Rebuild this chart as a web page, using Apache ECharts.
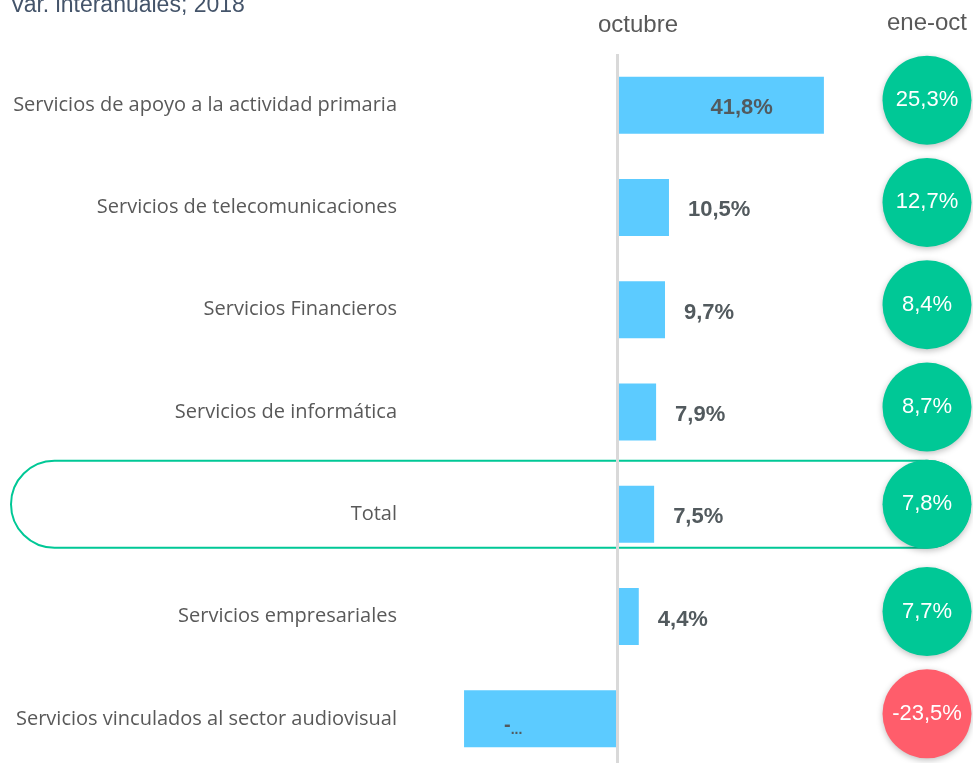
<!DOCTYPE html>
<html>
<head>
<meta charset="utf-8">
<script src="https://cdn.jsdelivr.net/npm/echarts@6/dist/echarts.min.js"></script>
<style>
  html, body { margin: 0; padding: 0; background: #fff; overflow: hidden; }
  #chart { width: 973px; height: 780px; }
</style>
</head>
<body>
<div id="chart"></div>
<script>
// categorias (de arriba a abajo)
var sectores = [
  "Servicios de apoyo a la actividad primaria",
  "Servicios de telecomunicaciones",
  "Servicios Financieros",
  "Servicios de informática",
  "Total",
  "Servicios empresariales",
  "Servicios vinculados al sector audiovisual"
];
// variacion interanual octubre (%)
var octubre = [41.8, 10.5, 9.7, 7.9, 7.5, 4.4, -30.9];
// variacion acumulada ene-oct (%)
var eneOct = [25.3, 12.7, 8.4, 8.7, 7.8, 7.7, -23.5];

function fmt(v) {
  return v.toFixed(1).replace(".", ",") + "%";
}

//datos de las barras con la posicion de la etiqueta
var datosBarras = octubre.map(function (v, i) {
  var item = { value: v };
  if (v > 30) {
    item.label = { position: "insideRight", distance: 51 };
  } else if (v < 0) {
    //etiqueta recortada como en el original
    item.label = {
      position: "insideLeft",
      distance: 40,
      offset: [0, 7],
      formatter: "{a|-}{b|...}",
      rich: {
        a: { fontSize: 20, fontWeight: "bold", color: "#525a5e", fontFamily: "Liberation Sans, Arial" },
        b: { fontSize: 14, fontWeight: "bold", color: "#525a5e", fontFamily: "Liberation Sans, Arial", padding: [8, 0, 0, 0] }
      }
    };
  }
  return item;
});

//circulos ene-oct
var datosCirculos = eneOct.map(function (v, i) {
  var item = {
    value: [0.5, sectores[i], v],
    itemStyle: { color: v < 0 ? "#ff5d6b" : "#00c896" }
  };
  if (sectores[i] == "Total") {
    item.symbolOffset = [0, -10];
  }
  return item;
});

var option = {
  animation: false,
  grid: [
    { left: 419, width: 495, top: 54, height: 716 },
    { left: 882, width: 90, top: 54, height: 716 }
  ],
  xAxis: [
    { type: "value", gridIndex: 0, min: -40, max: 60, show: false },
    { type: "value", gridIndex: 1, min: 0, max: 1, show: false }
  ],
  yAxis: [
    {
      type: "category",
      gridIndex: 0,
      data: sectores,
      inverse: true,
      axisLine: { show: false },
      axisTick: { show: false },
      splitLine: { show: false },
      axisLabel: {
        margin: 22,
        fontSize: 20,
        color: "#595959",
        fontFamily: "Open Sans"
      }
    },
    {
      type: "category",
      gridIndex: 1,
      data: sectores,
      inverse: true,
      show: false
    }
  ],
  series: [
    {
      type: "bar",
      xAxisIndex: 0,
      yAxisIndex: 0,
      barWidth: 57,
      itemStyle: { color: "#5ccbff" },
      label: {
        show: true,
        position: "right",
        distance: 19,
        offset: [0, 3],
        formatter: function (p) { return fmt(p.value); },
        fontSize: 22,
        fontWeight: "bold",
        color: "#525a5e",
        fontFamily: "Liberation Sans, Arial"
      },
      data: datosBarras,
      markLine: {
        silent: true,
        symbol: "none",
        label: { show: false },
        lineStyle: { color: "#d9d9d9", width: 3, type: "solid" },
        data: [{ xAxis: 0 }]
      },
      z: 3
    },
    {
      type: "scatter",
      xAxisIndex: 1,
      yAxisIndex: 1,
      symbol: "circle",
      symbolSize: 89,
      symbolOffset: [0, -5],
      itemStyle: {
        opacity: 1,
        shadowBlur: 6,
        shadowColor: "rgba(0,0,0,0.25)",
        shadowOffsetY: 2
      },
      label: {
        show: true,
        position: "inside",
        formatter: function (p) { return fmt(p.value[2]); },
        fontSize: 22,
        color: "#ffffff",
        fontFamily: "Liberation Sans, Arial"
      },
      data: datosCirculos,
      z: 10
    }
  ]
};

var chartDom = document.getElementById("chart");
var myChart = echarts.init(chartDom);
myChart.setOption(option);

//resaltar la fila del total
var yTotal = myChart.convertToPixel({ yAxisIndex: 0 }, "Total");
var xCirc = myChart.convertToPixel({ xAxisIndex: 1 }, 0.5);

myChart.setOption({
  graphic: [
    {
      type: "text",
      left: 10,
      top: -6,
      style: {
        text: "Var. interanuales; 2018",
        fontSize: 23,
        fill: "#44546a",
        fontFamily: "Liberation Sans, Arial"
      }
    },
    {
      type: "text",
      x: 638,
      y: 25,
      style: {
        text: "octubre",
        fontSize: 24,
        fill: "#595959",
        fontFamily: "Liberation Sans, Arial",
        align: "center",
        verticalAlign: "middle"
      }
    },
    {
      type: "text",
      x: xCirc,
      y: 23,
      style: {
        text: "ene-oct",
        fontSize: 24,
        fill: "#595959",
        fontFamily: "Liberation Sans, Arial",
        align: "center",
        verticalAlign: "middle"
      }
    },
    {
      type: "rect",
      z: 1,
      shape: { x: 11, y: yTotal - 10 - 43.5, width: xCirc + 43 - 11, height: 87, r: 43.5 },
      style: { fill: "none", stroke: "#00c896", lineWidth: 2 }
    }
  ]
});

window.addEventListener("resize", function () {
  if (myChart != null && myChart != undefined) {
    myChart.resize();
  }
});
</script>
</body>
</html>
